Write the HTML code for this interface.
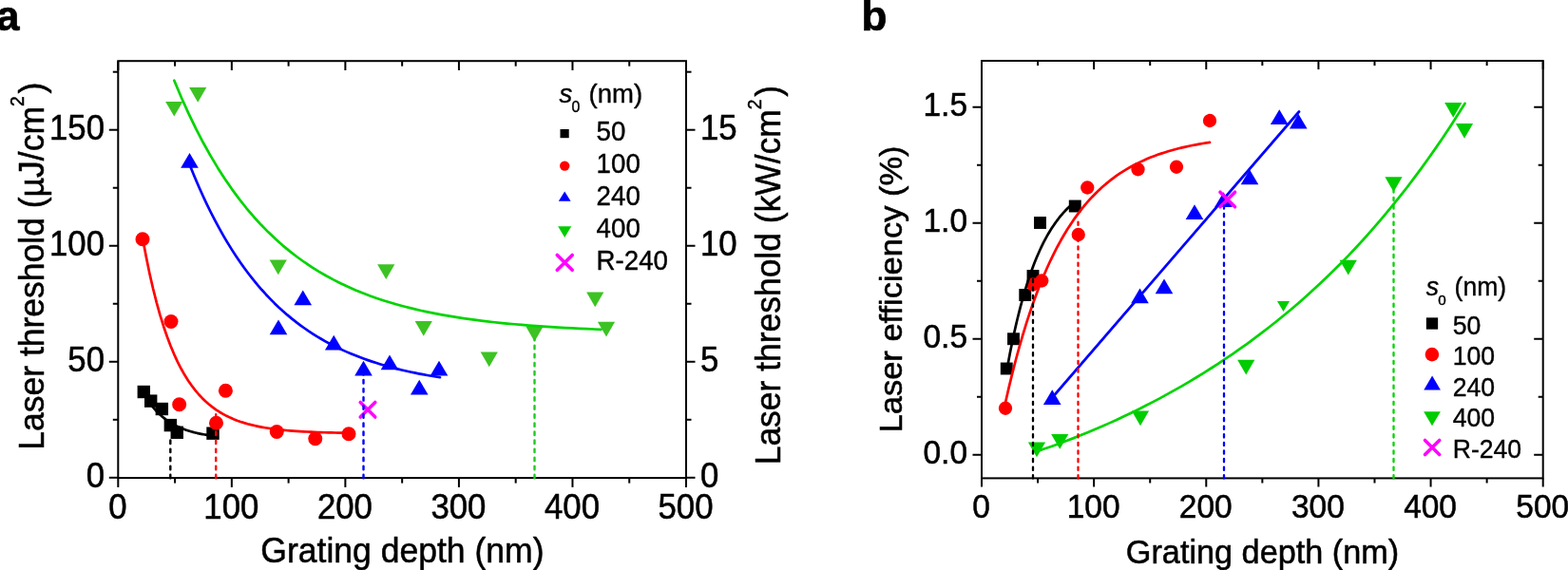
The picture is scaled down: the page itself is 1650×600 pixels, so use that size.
<!DOCTYPE html>
<html lang="en">
<head>
<meta charset="utf-8">
<title>Laser threshold and efficiency vs grating depth</title>
<style>
html,body{margin:0;padding:0;background:#fff;}
body{width:1650px;height:600px;overflow:hidden;}
svg{display:block;}
svg text{font-family:"Liberation Sans",Arial,Helvetica,sans-serif;fill:#000;stroke:#000;stroke-width:0.55px;stroke-linejoin:round;}
svg text.b{font-weight:bold;stroke-width:0.7px;}
svg text.l{stroke-width:0.4px;}
</style>
</head>
<body>
<svg width="1650" height="600" viewBox="0 0 1650 600">
<rect width="1650" height="600" fill="#fff"/>
<g id="panel-a">
<g id="a-markers">
<rect x="144.60" y="405.80" width="13.4" height="13.4" fill="#000"/>
<rect x="152.00" y="415.40" width="13.4" height="13.4" fill="#000"/>
<rect x="163.65" y="423.80" width="13.4" height="13.4" fill="#000"/>
<rect x="172.65" y="440.90" width="13.4" height="13.4" fill="#000"/>
<rect x="179.55" y="448.55" width="13.4" height="13.4" fill="#000"/>
<rect x="217.30" y="449.45" width="13.4" height="13.4" fill="#000"/>
<circle cx="150.00" cy="251.75" r="7.5" fill="#f00"/>
<circle cx="180.00" cy="338.50" r="7.5" fill="#f00"/>
<circle cx="188.65" cy="425.70" r="7.5" fill="#f00"/>
<circle cx="237.40" cy="411.30" r="7.5" fill="#f00"/>
<circle cx="227.50" cy="445.20" r="7.5" fill="#f00"/>
<circle cx="291.25" cy="454.50" r="7.5" fill="#f00"/>
<circle cx="331.75" cy="461.75" r="7.5" fill="#f00"/>
<circle cx="367.00" cy="456.75" r="7.5" fill="#f00"/>
<polygon points="199.50,160.95 208.80,176.65 190.20,176.65" fill="#00f"/>
<polygon points="293.00,336.45 302.30,352.15 283.70,352.15" fill="#00f"/>
<polygon points="318.75,305.45 328.05,321.15 309.45,321.15" fill="#00f"/>
<polygon points="351.25,352.70 360.55,368.40 341.95,368.40" fill="#00f"/>
<polygon points="382.50,379.70 391.80,395.40 373.20,395.40" fill="#00f"/>
<polygon points="410.00,373.45 419.30,389.15 400.70,389.15" fill="#00f"/>
<polygon points="462.00,379.70 471.30,395.40 452.70,395.40" fill="#00f"/>
<polygon points="441.25,399.70 450.55,415.40 431.95,415.40" fill="#00f"/>
<polygon points="174.15,106.90 192.35,106.90 183.25,122.60" fill="#3cc323"/>
<polygon points="199.10,92.00 217.30,92.00 208.20,107.70" fill="#3cc323"/>
<polygon points="283.65,273.50 301.85,273.50 292.75,289.20" fill="#3cc323"/>
<polygon points="397.15,278.25 415.35,278.25 406.25,293.95" fill="#3cc323"/>
<polygon points="436.65,338.00 454.85,338.00 445.75,353.70" fill="#3cc323"/>
<polygon points="617.15,307.50 635.35,307.50 626.25,323.20" fill="#3cc323"/>
<polygon points="628.90,338.75 647.10,338.75 638.00,354.45" fill="#3cc323"/>
<polygon points="553.40,343.75 571.60,343.75 562.50,359.45" fill="#3cc323"/>
<polygon points="505.65,370.50 523.85,370.50 514.75,386.20" fill="#3cc323"/>
<path d="M379.20,423.45L394.80,439.05M379.20,439.05L394.80,423.45" stroke="#f0f" stroke-width="3.5" fill="none" stroke-linecap="round"/>
</g>
<g id="a-curves">
<path d="M183.30,84.65L190.91,102.75L198.53,119.63L206.14,135.36L213.75,150.02L221.37,163.68L228.98,176.41L236.59,188.28L244.21,199.34L251.82,209.65L259.44,219.26L267.05,228.22L274.66,236.56L282.28,244.34L289.89,251.59L297.50,258.35L305.12,264.65L312.73,270.52L320.34,275.99L327.96,281.09L335.57,285.84L343.18,290.27L350.80,294.40L358.41,298.25L366.03,301.84L373.64,305.18L381.25,308.29L388.87,311.20L396.48,313.90L404.09,316.43L411.71,318.78L419.32,320.97L426.93,323.01L434.55,324.91L442.16,326.69L449.77,328.34L457.39,329.88L465.00,331.32L472.62,332.66L480.23,333.90L487.84,335.07L495.46,336.15L503.07,337.16L510.68,338.10L518.30,338.98L525.91,339.80L533.52,340.56L541.14,341.27L548.75,341.93L556.36,342.55L563.98,343.12L571.59,343.66L579.21,344.16L586.82,344.63L594.43,345.06L602.05,345.46L609.66,345.84L617.27,346.19L624.89,346.52L632.50,346.82" stroke="#00d400" stroke-width="2.7" fill="none" stroke-linecap="round" stroke-linejoin="round"/>
<path d="M199.50,173.25L203.97,184.26L208.43,194.77L212.90,204.79L217.36,214.35L221.83,223.47L226.30,232.17L230.76,240.46L235.23,248.37L239.69,255.92L244.16,263.12L248.63,269.99L253.09,276.54L257.56,282.78L262.03,288.74L266.49,294.43L270.96,299.85L275.42,305.02L279.89,309.96L284.36,314.66L288.82,319.15L293.29,323.43L297.75,327.51L302.22,331.41L306.69,335.12L311.15,338.67L315.62,342.05L320.08,345.27L324.55,348.35L329.02,351.28L333.48,354.08L337.95,356.75L342.42,359.30L346.88,361.72L351.35,364.04L355.81,366.25L360.28,368.36L364.75,370.37L369.21,372.28L373.68,374.11L378.14,375.86L382.61,377.52L387.08,379.11L391.54,380.62L396.01,382.07L400.47,383.45L404.94,384.76L409.41,386.01L413.87,387.21L418.34,388.35L422.81,389.44L427.27,390.47L431.74,391.46L436.20,392.41L440.67,393.31L445.14,394.17L449.60,394.98L454.07,395.77L458.53,396.51L463.00,397.22" stroke="#00f" stroke-width="2.7" fill="none" stroke-linecap="round" stroke-linejoin="round"/>
<path d="M150.00,250.14L153.69,269.84L157.37,287.66L161.06,303.78L164.75,318.36L168.43,331.55L172.12,343.47L175.81,354.26L179.49,364.01L183.18,372.83L186.86,380.81L190.55,388.03L194.24,394.56L197.92,400.46L201.61,405.80L205.30,410.63L208.98,415.00L212.67,418.95L216.36,422.52L220.04,425.75L223.73,428.68L227.42,431.32L231.10,433.71L234.79,435.87L238.47,437.83L242.16,439.60L245.85,441.20L249.53,442.65L253.22,443.95L256.91,445.14L260.59,446.21L264.28,447.18L267.97,448.05L271.65,448.84L275.34,449.56L279.03,450.21L282.71,450.79L286.40,451.32L290.08,451.80L293.77,452.24L297.46,452.63L301.14,452.98L304.83,453.30L308.52,453.59L312.20,453.86L315.89,454.09L319.58,454.31L323.26,454.50L326.95,454.68L330.64,454.84L334.32,454.98L338.01,455.11L341.69,455.23L345.38,455.33L349.07,455.43L352.75,455.52L356.44,455.60L360.13,455.67L363.81,455.73L367.50,455.79" stroke="#f00" stroke-width="2.7" fill="none" stroke-linecap="round" stroke-linejoin="round"/>
<path d="M152.00,415.78L153.22,417.77L154.44,419.67L155.66,421.50L156.88,423.24L158.10,424.91L159.32,426.51L160.54,428.04L161.76,429.51L162.98,430.91L164.20,432.25L165.42,433.54L166.64,434.77L167.86,435.95L169.08,437.07L170.31,438.15L171.53,439.18L172.75,440.17L173.97,441.12L175.19,442.02L176.41,442.89L177.63,443.72L178.85,444.52L180.07,445.28L181.29,446.00L182.51,446.70L183.73,447.37L184.95,448.00L186.17,448.61L187.39,449.20L188.61,449.76L189.83,450.29L191.05,450.81L192.27,451.30L193.49,451.77L194.71,452.22L195.93,452.65L197.15,453.06L198.37,453.45L199.59,453.83L200.81,454.19L202.03,454.54L203.25,454.87L204.47,455.19L205.69,455.49L206.92,455.78L208.14,456.06L209.36,456.32L210.58,456.58L211.80,456.82L213.02,457.06L214.24,457.28L215.46,457.49L216.68,457.70L217.90,457.89L219.12,458.08L220.34,458.26L221.56,458.43L222.78,458.60L224.00,458.75" stroke="#000" stroke-width="2.7" fill="none" stroke-linecap="round" stroke-linejoin="round"/>
</g>
<g id="a-axes">
<rect x="124.3" y="64.2" width="597.70" height="438.90" fill="none" stroke="#000" stroke-width="2.0"/>
<line x1="124.30" y1="503.10" x2="124.30" y2="512.90" stroke="#000" stroke-width="2.0" stroke-linecap="butt"/>
<line x1="124.30" y1="64.20" x2="124.30" y2="74.00" stroke="#000" stroke-width="2.0" stroke-linecap="butt"/>
<line x1="184.07" y1="503.10" x2="184.07" y2="508.60" stroke="#000" stroke-width="2.0" stroke-linecap="butt"/>
<line x1="184.07" y1="64.20" x2="184.07" y2="69.70" stroke="#000" stroke-width="2.0" stroke-linecap="butt"/>
<line x1="243.84" y1="503.10" x2="243.84" y2="512.90" stroke="#000" stroke-width="2.0" stroke-linecap="butt"/>
<line x1="243.84" y1="64.20" x2="243.84" y2="74.00" stroke="#000" stroke-width="2.0" stroke-linecap="butt"/>
<line x1="303.61" y1="503.10" x2="303.61" y2="508.60" stroke="#000" stroke-width="2.0" stroke-linecap="butt"/>
<line x1="303.61" y1="64.20" x2="303.61" y2="69.70" stroke="#000" stroke-width="2.0" stroke-linecap="butt"/>
<line x1="363.38" y1="503.10" x2="363.38" y2="512.90" stroke="#000" stroke-width="2.0" stroke-linecap="butt"/>
<line x1="363.38" y1="64.20" x2="363.38" y2="74.00" stroke="#000" stroke-width="2.0" stroke-linecap="butt"/>
<line x1="423.15" y1="503.10" x2="423.15" y2="508.60" stroke="#000" stroke-width="2.0" stroke-linecap="butt"/>
<line x1="423.15" y1="64.20" x2="423.15" y2="69.70" stroke="#000" stroke-width="2.0" stroke-linecap="butt"/>
<line x1="482.92" y1="503.10" x2="482.92" y2="512.90" stroke="#000" stroke-width="2.0" stroke-linecap="butt"/>
<line x1="482.92" y1="64.20" x2="482.92" y2="74.00" stroke="#000" stroke-width="2.0" stroke-linecap="butt"/>
<line x1="542.69" y1="503.10" x2="542.69" y2="508.60" stroke="#000" stroke-width="2.0" stroke-linecap="butt"/>
<line x1="542.69" y1="64.20" x2="542.69" y2="69.70" stroke="#000" stroke-width="2.0" stroke-linecap="butt"/>
<line x1="602.46" y1="503.10" x2="602.46" y2="512.90" stroke="#000" stroke-width="2.0" stroke-linecap="butt"/>
<line x1="602.46" y1="64.20" x2="602.46" y2="74.00" stroke="#000" stroke-width="2.0" stroke-linecap="butt"/>
<line x1="662.23" y1="503.10" x2="662.23" y2="508.60" stroke="#000" stroke-width="2.0" stroke-linecap="butt"/>
<line x1="662.23" y1="64.20" x2="662.23" y2="69.70" stroke="#000" stroke-width="2.0" stroke-linecap="butt"/>
<line x1="722.00" y1="503.10" x2="722.00" y2="512.90" stroke="#000" stroke-width="2.0" stroke-linecap="butt"/>
<line x1="722.00" y1="64.20" x2="722.00" y2="74.00" stroke="#000" stroke-width="2.0" stroke-linecap="butt"/>
<line x1="124.30" y1="502.80" x2="114.80" y2="502.80" stroke="#000" stroke-width="2.0" stroke-linecap="butt"/>
<line x1="722.00" y1="502.80" x2="731.50" y2="502.80" stroke="#000" stroke-width="2.0" stroke-linecap="butt"/>
<line x1="124.30" y1="441.79" x2="118.80" y2="441.79" stroke="#000" stroke-width="2.0" stroke-linecap="butt"/>
<line x1="722.00" y1="441.79" x2="727.50" y2="441.79" stroke="#000" stroke-width="2.0" stroke-linecap="butt"/>
<line x1="124.30" y1="380.77" x2="114.80" y2="380.77" stroke="#000" stroke-width="2.0" stroke-linecap="butt"/>
<line x1="722.00" y1="380.77" x2="731.50" y2="380.77" stroke="#000" stroke-width="2.0" stroke-linecap="butt"/>
<line x1="124.30" y1="319.75" x2="118.80" y2="319.75" stroke="#000" stroke-width="2.0" stroke-linecap="butt"/>
<line x1="722.00" y1="319.75" x2="727.50" y2="319.75" stroke="#000" stroke-width="2.0" stroke-linecap="butt"/>
<line x1="124.30" y1="258.74" x2="114.80" y2="258.74" stroke="#000" stroke-width="2.0" stroke-linecap="butt"/>
<line x1="722.00" y1="258.74" x2="731.50" y2="258.74" stroke="#000" stroke-width="2.0" stroke-linecap="butt"/>
<line x1="124.30" y1="197.73" x2="118.80" y2="197.73" stroke="#000" stroke-width="2.0" stroke-linecap="butt"/>
<line x1="722.00" y1="197.73" x2="727.50" y2="197.73" stroke="#000" stroke-width="2.0" stroke-linecap="butt"/>
<line x1="124.30" y1="136.71" x2="114.80" y2="136.71" stroke="#000" stroke-width="2.0" stroke-linecap="butt"/>
<line x1="722.00" y1="136.71" x2="731.50" y2="136.71" stroke="#000" stroke-width="2.0" stroke-linecap="butt"/>
<line x1="124.30" y1="75.70" x2="118.80" y2="75.70" stroke="#000" stroke-width="2.0" stroke-linecap="butt"/>
<line x1="722.00" y1="75.70" x2="727.50" y2="75.70" stroke="#000" stroke-width="2.0" stroke-linecap="butt"/>
</g>
<g id="a-dashed">
<line x1="179.30" y1="503.30" x2="179.30" y2="460.00" stroke="#000" stroke-width="2.4" stroke-dasharray="3.5,5.57" stroke-linecap="round"/>
<line x1="227.20" y1="503.30" x2="227.20" y2="433.50" stroke="#f00" stroke-width="2.4" stroke-dasharray="3.5,5.57" stroke-linecap="round"/>
<line x1="382.50" y1="503.30" x2="382.50" y2="394.00" stroke="#00f" stroke-width="2.4" stroke-dasharray="3.5,5.57" stroke-linecap="round"/>
<line x1="562.50" y1="503.30" x2="562.50" y2="357.00" stroke="#22c822" stroke-width="2.4" stroke-dasharray="3.5,5.57" stroke-linecap="round"/>
</g>
<g id="a-labels">
<text transform="translate(123.80,545.50) scale(0.94,1)" font-size="37.0" text-anchor="middle">0</text>
<text transform="translate(243.34,545.50) scale(0.94,1)" font-size="37.0" text-anchor="middle">100</text>
<text transform="translate(362.88,545.50) scale(0.94,1)" font-size="37.0" text-anchor="middle">200</text>
<text transform="translate(482.42,545.50) scale(0.94,1)" font-size="37.0" text-anchor="middle">300</text>
<text transform="translate(601.96,545.50) scale(0.94,1)" font-size="37.0" text-anchor="middle">400</text>
<text transform="translate(721.50,545.50) scale(0.94,1)" font-size="37.0" text-anchor="middle">500</text>
<text transform="translate(110.00,512.90) scale(0.94,1)" font-size="37.0" text-anchor="end">0</text>
<text transform="translate(110.00,390.87) scale(0.94,1)" font-size="37.0" text-anchor="end">50</text>
<text transform="translate(110.00,268.84) scale(0.94,1)" font-size="37.0" text-anchor="end">100</text>
<text transform="translate(110.00,146.81) scale(0.94,1)" font-size="37.0" text-anchor="end">150</text>
<text transform="translate(737.00,512.90) scale(0.94,1)" font-size="37.0" text-anchor="start">0</text>
<text transform="translate(737.00,390.87) scale(0.94,1)" font-size="37.0" text-anchor="start">5</text>
<text transform="translate(737.00,268.84) scale(0.94,1)" font-size="37.0" text-anchor="start">10</text>
<text transform="translate(737.00,146.81) scale(0.94,1)" font-size="37.0" text-anchor="start">15</text>
<text transform="translate(423.40,592.30) scale(0.961,1)" font-size="37.0" text-anchor="middle">Grating depth (nm)</text>
<text transform="translate(45.50,280.20) rotate(-90) scale(0.96,1)" font-size="37.0" text-anchor="middle">Laser threshold (µJ/cm<tspan dy="-20.5" font-size="20">2</tspan><tspan dy="20.5" dx="3">)</tspan></text>
<text transform="translate(821.30,289.60) rotate(-90) scale(0.958,1)" font-size="37.0" text-anchor="middle">Laser threshold (kW/cm<tspan dy="-20.5" font-size="20">2</tspan><tspan dy="20.5" dx="3">)</tspan></text>
<text class="b" transform="translate(-3.90,31.70)" font-size="44" text-anchor="start">a</text>
</g>
<g id="a-legend">
<text class="l" transform="translate(588.60,107.50) scale(0.99,1)" font-size="27.8" text-anchor="start"><tspan font-style="italic">s</tspan><tspan dy="10.9" dx="-0.8" font-size="16">0</tspan><tspan dy="-10.9" dx="1.5"> (nm)</tspan></text>
<text class="l" transform="translate(627.60,148.40) scale(0.955,1)" font-size="29.0" text-anchor="start">50</text>
<text class="l" transform="translate(627.60,182.40) scale(0.955,1)" font-size="29.0" text-anchor="start">100</text>
<text class="l" transform="translate(627.60,216.40) scale(0.955,1)" font-size="29.0" text-anchor="start">240</text>
<text class="l" transform="translate(627.60,250.40) scale(0.955,1)" font-size="29.0" text-anchor="start">400</text>
<text class="l" transform="translate(627.60,284.40) scale(0.955,1)" font-size="29.0" text-anchor="start">R-240</text>
<rect x="589.50" y="136.00" width="9.2" height="9.2" fill="#000"/>
<circle cx="594.20" cy="174.60" r="5.2" fill="#f00"/>
<polygon points="594.20,201.60 600.60,211.80 587.80,211.80" fill="#00f"/>
<polygon points="587.20,238.20 601.20,238.20 594.20,250.10" fill="#00cc00"/>
<path d="M586.30,268.40L602.20,284.30M586.30,284.30L602.20,268.40" stroke="#f0f" stroke-width="3.6" fill="none" stroke-linecap="round"/>
</g>
</g>
<g id="panel-b">
<g id="b-markers">
<rect x="1088.05" y="228.05" width="12.9" height="12.9" fill="#000"/>
<rect x="1124.80" y="210.55" width="12.9" height="12.9" fill="#000"/>
<rect x="1080.55" y="284.05" width="12.9" height="12.9" fill="#000"/>
<rect x="1072.30" y="304.05" width="12.9" height="12.9" fill="#000"/>
<rect x="1060.05" y="350.30" width="12.9" height="12.9" fill="#000"/>
<rect x="1052.80" y="381.55" width="12.9" height="12.9" fill="#000"/>
<circle cx="1144.25" cy="197.50" r="7.15" fill="#f00"/>
<circle cx="1197.50" cy="178.25" r="7.15" fill="#f00"/>
<circle cx="1134.75" cy="247.00" r="7.15" fill="#f00"/>
<circle cx="1096.25" cy="295.50" r="7.15" fill="#f00"/>
<circle cx="1087.00" cy="299.50" r="7.15" fill="#f00"/>
<circle cx="1058.00" cy="429.75" r="7.15" fill="#f00"/>
<circle cx="1273.00" cy="127.00" r="7.15" fill="#f00"/>
<circle cx="1238.00" cy="175.75" r="7.15" fill="#f00"/>
<polygon points="1107.25,410.20 1116.55,425.90 1097.95,425.90" fill="#00f"/>
<polygon points="1199.50,303.45 1208.80,319.15 1190.20,319.15" fill="#00f"/>
<polygon points="1346.25,115.20 1355.55,130.90 1336.95,130.90" fill="#00f"/>
<polygon points="1366.25,119.70 1375.55,135.40 1356.95,135.40" fill="#00f"/>
<polygon points="1315.00,178.45 1324.30,194.15 1305.70,194.15" fill="#00f"/>
<polygon points="1257.00,215.20 1266.30,230.90 1247.70,230.90" fill="#00f"/>
<polygon points="1287.50,202.20 1296.80,217.90 1278.20,217.90" fill="#00f"/>
<polygon points="1225.00,293.45 1234.30,309.15 1215.70,309.15" fill="#00f"/>
<polygon points="1081.90,465.50 1100.10,465.50 1091.00,481.20" fill="#00cc00"/>
<polygon points="1106.15,457.00 1124.35,457.00 1115.25,472.70" fill="#00cc00"/>
<polygon points="1190.90,432.50 1209.10,432.50 1200.00,448.20" fill="#00cc00"/>
<polygon points="1302.15,378.75 1320.35,378.75 1311.25,394.45" fill="#00cc00"/>
<polygon points="1409.65,273.75 1427.85,273.75 1418.75,289.45" fill="#00cc00"/>
<polygon points="1520.15,108.00 1538.35,108.00 1529.25,123.70" fill="#00cc00"/>
<polygon points="1531.90,130.00 1550.10,130.00 1541.00,145.70" fill="#00cc00"/>
<polygon points="1457.40,186.25 1475.60,186.25 1466.50,201.95" fill="#00cc00"/>
<polygon points="1344.00,317.00 1357.00,317.00 1350.50,328.00" fill="#00cc00"/>
</g>
<g id="b-curves">
<path d="M1091.00,475.15L1098.64,472.57L1106.27,469.91L1113.91,467.15L1121.54,464.31L1129.18,461.38L1136.81,458.35L1144.45,455.24L1152.08,452.04L1159.72,448.75L1167.36,445.37L1174.99,441.90L1182.63,438.34L1190.26,434.68L1197.90,430.93L1205.53,427.08L1213.17,423.13L1220.81,419.08L1228.44,414.93L1236.08,410.67L1243.71,406.31L1251.35,401.84L1258.98,397.26L1266.62,392.56L1274.25,387.74L1281.89,382.81L1289.53,377.74L1297.16,372.55L1304.80,367.23L1312.43,361.78L1320.07,356.18L1327.70,350.44L1335.34,344.55L1342.97,338.51L1350.61,332.31L1358.25,325.95L1365.88,319.42L1373.52,312.72L1381.15,305.84L1388.79,298.78L1396.42,291.53L1404.06,284.08L1411.69,276.43L1419.33,268.58L1426.97,260.51L1434.60,252.22L1442.24,243.70L1449.87,234.95L1457.51,225.95L1465.14,216.71L1472.78,207.22L1480.42,197.46L1488.05,187.43L1495.69,177.12L1503.32,166.52L1510.96,155.63L1518.59,144.43L1526.23,132.92L1533.86,121.09L1541.50,108.93" stroke="#00d400" stroke-width="2.7" fill="none" stroke-linecap="round" stroke-linejoin="round"/>
<path d="M1106.00,420.00L1367.00,117.50" stroke="#00f" stroke-width="2.7" fill="none" stroke-linecap="round" stroke-linejoin="round"/>
<path d="M1058.00,423.78L1061.64,407.90L1065.29,392.91L1068.93,378.76L1072.58,365.40L1076.22,352.80L1079.86,340.89L1083.51,329.66L1087.15,319.06L1090.80,309.05L1094.44,299.60L1098.08,290.68L1101.73,282.26L1105.37,274.31L1109.02,266.81L1112.66,259.73L1116.31,253.04L1119.95,246.73L1123.59,240.78L1127.24,235.15L1130.88,229.85L1134.53,224.84L1138.17,220.11L1141.81,215.64L1145.46,211.43L1149.10,207.45L1152.75,203.70L1156.39,200.15L1160.03,196.81L1163.68,193.65L1167.32,190.67L1170.97,187.85L1174.61,185.20L1178.25,182.69L1181.90,180.32L1185.54,178.09L1189.19,175.98L1192.83,173.99L1196.47,172.11L1200.12,170.34L1203.76,168.66L1207.41,167.08L1211.05,165.59L1214.69,164.18L1218.34,162.85L1221.98,161.60L1225.63,160.41L1229.27,159.29L1232.92,158.24L1236.56,157.24L1240.20,156.30L1243.85,155.41L1247.49,154.58L1251.14,153.79L1254.78,153.04L1258.42,152.33L1262.07,151.67L1265.71,151.04L1269.36,150.45L1273.00,149.89" stroke="#f00" stroke-width="2.7" fill="none" stroke-linecap="round" stroke-linejoin="round"/>
<path d="M1059.25,390.99L1060.47,384.23L1061.68,377.69L1062.90,371.36L1064.11,365.23L1065.33,359.31L1066.55,353.58L1067.76,348.03L1068.98,342.67L1070.19,337.48L1071.41,332.46L1072.63,327.60L1073.84,322.90L1075.06,318.35L1076.28,313.95L1077.49,309.69L1078.71,305.57L1079.92,301.59L1081.14,297.73L1082.36,294.00L1083.57,290.39L1084.79,286.90L1086.00,283.52L1087.22,280.25L1088.44,277.09L1089.65,274.03L1090.87,271.07L1092.08,268.21L1093.30,265.44L1094.52,262.75L1095.73,260.16L1096.95,257.65L1098.17,255.22L1099.38,252.87L1100.60,250.60L1101.81,248.40L1103.03,246.28L1104.25,244.22L1105.46,242.23L1106.68,240.30L1107.89,238.44L1109.11,236.63L1110.33,234.89L1111.54,233.20L1112.76,231.57L1113.97,229.99L1115.19,228.46L1116.41,226.98L1117.62,225.55L1118.84,224.16L1120.06,222.82L1121.27,221.53L1122.49,220.28L1123.70,219.06L1124.92,217.89L1126.14,216.75L1127.35,215.65L1128.57,214.59L1129.78,213.56L1131.00,212.57" stroke="#000" stroke-width="2.7" fill="none" stroke-linecap="round" stroke-linejoin="round"/>
<path d="M1283.95,202.20L1299.55,217.80M1283.95,217.80L1299.55,202.20" stroke="#f0f" stroke-width="3.5" fill="none" stroke-linecap="round"/>
</g>
<g id="b-axes">
<rect x="1033.0" y="64.0" width="590.70" height="439.40" fill="none" stroke="#000" stroke-width="2.0"/>
<line x1="1033.00" y1="503.40" x2="1033.00" y2="512.50" stroke="#000" stroke-width="2.0" stroke-linecap="butt"/>
<line x1="1033.00" y1="64.00" x2="1033.00" y2="73.10" stroke="#000" stroke-width="2.0" stroke-linecap="butt"/>
<line x1="1092.07" y1="503.40" x2="1092.07" y2="508.50" stroke="#000" stroke-width="2.0" stroke-linecap="butt"/>
<line x1="1092.07" y1="64.00" x2="1092.07" y2="69.10" stroke="#000" stroke-width="2.0" stroke-linecap="butt"/>
<line x1="1151.14" y1="503.40" x2="1151.14" y2="512.50" stroke="#000" stroke-width="2.0" stroke-linecap="butt"/>
<line x1="1151.14" y1="64.00" x2="1151.14" y2="73.10" stroke="#000" stroke-width="2.0" stroke-linecap="butt"/>
<line x1="1210.21" y1="503.40" x2="1210.21" y2="508.50" stroke="#000" stroke-width="2.0" stroke-linecap="butt"/>
<line x1="1210.21" y1="64.00" x2="1210.21" y2="69.10" stroke="#000" stroke-width="2.0" stroke-linecap="butt"/>
<line x1="1269.28" y1="503.40" x2="1269.28" y2="512.50" stroke="#000" stroke-width="2.0" stroke-linecap="butt"/>
<line x1="1269.28" y1="64.00" x2="1269.28" y2="73.10" stroke="#000" stroke-width="2.0" stroke-linecap="butt"/>
<line x1="1328.35" y1="503.40" x2="1328.35" y2="508.50" stroke="#000" stroke-width="2.0" stroke-linecap="butt"/>
<line x1="1328.35" y1="64.00" x2="1328.35" y2="69.10" stroke="#000" stroke-width="2.0" stroke-linecap="butt"/>
<line x1="1387.42" y1="503.40" x2="1387.42" y2="512.50" stroke="#000" stroke-width="2.0" stroke-linecap="butt"/>
<line x1="1387.42" y1="64.00" x2="1387.42" y2="73.10" stroke="#000" stroke-width="2.0" stroke-linecap="butt"/>
<line x1="1446.49" y1="503.40" x2="1446.49" y2="508.50" stroke="#000" stroke-width="2.0" stroke-linecap="butt"/>
<line x1="1446.49" y1="64.00" x2="1446.49" y2="69.10" stroke="#000" stroke-width="2.0" stroke-linecap="butt"/>
<line x1="1505.56" y1="503.40" x2="1505.56" y2="512.50" stroke="#000" stroke-width="2.0" stroke-linecap="butt"/>
<line x1="1505.56" y1="64.00" x2="1505.56" y2="73.10" stroke="#000" stroke-width="2.0" stroke-linecap="butt"/>
<line x1="1564.63" y1="503.40" x2="1564.63" y2="508.50" stroke="#000" stroke-width="2.0" stroke-linecap="butt"/>
<line x1="1564.63" y1="64.00" x2="1564.63" y2="69.10" stroke="#000" stroke-width="2.0" stroke-linecap="butt"/>
<line x1="1623.70" y1="503.40" x2="1623.70" y2="512.50" stroke="#000" stroke-width="2.0" stroke-linecap="butt"/>
<line x1="1623.70" y1="64.00" x2="1623.70" y2="73.10" stroke="#000" stroke-width="2.0" stroke-linecap="butt"/>
<line x1="1033.00" y1="478.75" x2="1023.50" y2="478.75" stroke="#000" stroke-width="2.0" stroke-linecap="butt"/>
<line x1="1623.70" y1="478.75" x2="1614.20" y2="478.75" stroke="#000" stroke-width="2.0" stroke-linecap="butt"/>
<line x1="1033.00" y1="417.75" x2="1028.00" y2="417.75" stroke="#000" stroke-width="2.0" stroke-linecap="butt"/>
<line x1="1623.70" y1="417.75" x2="1618.70" y2="417.75" stroke="#000" stroke-width="2.0" stroke-linecap="butt"/>
<line x1="1033.00" y1="356.75" x2="1023.50" y2="356.75" stroke="#000" stroke-width="2.0" stroke-linecap="butt"/>
<line x1="1623.70" y1="356.75" x2="1614.20" y2="356.75" stroke="#000" stroke-width="2.0" stroke-linecap="butt"/>
<line x1="1033.00" y1="295.75" x2="1028.00" y2="295.75" stroke="#000" stroke-width="2.0" stroke-linecap="butt"/>
<line x1="1623.70" y1="295.75" x2="1618.70" y2="295.75" stroke="#000" stroke-width="2.0" stroke-linecap="butt"/>
<line x1="1033.00" y1="234.75" x2="1023.50" y2="234.75" stroke="#000" stroke-width="2.0" stroke-linecap="butt"/>
<line x1="1623.70" y1="234.75" x2="1614.20" y2="234.75" stroke="#000" stroke-width="2.0" stroke-linecap="butt"/>
<line x1="1033.00" y1="173.75" x2="1028.00" y2="173.75" stroke="#000" stroke-width="2.0" stroke-linecap="butt"/>
<line x1="1623.70" y1="173.75" x2="1618.70" y2="173.75" stroke="#000" stroke-width="2.0" stroke-linecap="butt"/>
<line x1="1033.00" y1="112.75" x2="1023.50" y2="112.75" stroke="#000" stroke-width="2.0" stroke-linecap="butt"/>
<line x1="1623.70" y1="112.75" x2="1614.20" y2="112.75" stroke="#000" stroke-width="2.0" stroke-linecap="butt"/>
</g>
<g id="b-dashed">
<line x1="1087.00" y1="503.50" x2="1087.00" y2="292.00" stroke="#000" stroke-width="2.3" stroke-dasharray="3.3,5.3" stroke-linecap="round"/>
<line x1="1134.50" y1="503.50" x2="1134.50" y2="230.00" stroke="#f00" stroke-width="2.3" stroke-dasharray="3.3,5.3" stroke-linecap="round"/>
<line x1="1288.00" y1="503.50" x2="1288.00" y2="215.00" stroke="#00f" stroke-width="2.3" stroke-dasharray="3.3,5.3" stroke-linecap="round"/>
<line x1="1466.50" y1="503.50" x2="1466.50" y2="198.00" stroke="#00d400" stroke-width="2.3" stroke-dasharray="3.3,5.3" stroke-linecap="round"/>
</g>
<g id="b-labels">
<text transform="translate(1032.50,544.50) scale(0.94,1)" font-size="35.6" text-anchor="middle">0</text>
<text transform="translate(1150.64,544.50) scale(0.94,1)" font-size="35.6" text-anchor="middle">100</text>
<text transform="translate(1268.78,544.50) scale(0.94,1)" font-size="35.6" text-anchor="middle">200</text>
<text transform="translate(1386.92,544.50) scale(0.94,1)" font-size="35.6" text-anchor="middle">300</text>
<text transform="translate(1505.06,544.50) scale(0.94,1)" font-size="35.6" text-anchor="middle">400</text>
<text transform="translate(1623.20,544.50) scale(0.94,1)" font-size="35.6" text-anchor="middle">500</text>
<text transform="translate(1018.00,488.15) scale(0.94,1)" font-size="35.6" text-anchor="end">0.0</text>
<text transform="translate(1018.00,366.15) scale(0.94,1)" font-size="35.6" text-anchor="end">0.5</text>
<text transform="translate(1018.00,244.15) scale(0.94,1)" font-size="35.6" text-anchor="end">1.0</text>
<text transform="translate(1018.00,122.15) scale(0.94,1)" font-size="35.6" text-anchor="end">1.5</text>
<text transform="translate(1328.50,592.70) scale(0.962,1)" font-size="35.6" text-anchor="middle">Grating depth (nm)</text>
<text transform="translate(949.00,304.40) rotate(-90) scale(1.029,1)" font-size="33.5" text-anchor="middle">Laser efficiency (%)</text>
<text class="b" transform="translate(906.50,31.60)" font-size="44" text-anchor="start">b</text>
</g>
<g id="b-legend">
<text class="l" transform="translate(1500.80,310.70) scale(0.99,1)" font-size="26.8" text-anchor="start"><tspan font-style="italic">s</tspan><tspan dy="10.6" dx="-0.8" font-size="15.4">0</tspan><tspan dy="-10.6" dx="1.5"> (nm)</tspan></text>
<text class="l" transform="translate(1528.70,351.50) scale(0.95,1)" font-size="28.0" text-anchor="start">50</text>
<text class="l" transform="translate(1528.70,384.10) scale(0.95,1)" font-size="28.0" text-anchor="start">100</text>
<text class="l" transform="translate(1528.70,416.70) scale(0.95,1)" font-size="28.0" text-anchor="start">240</text>
<text class="l" transform="translate(1528.70,449.30) scale(0.95,1)" font-size="28.0" text-anchor="start">400</text>
<text class="l" transform="translate(1528.70,481.90) scale(0.95,1)" font-size="28.0" text-anchor="start">R-240</text>
<rect x="1500.85" y="334.35" width="12.3" height="12.3" fill="#000"/>
<circle cx="1506.90" cy="373.10" r="7.3" fill="#f00"/>
<polygon points="1507.10,395.60 1515.90,410.60 1498.30,410.60" fill="#00f"/>
<polygon points="1498.10,433.30 1515.90,433.30 1507.00,448.30" fill="#00cc00"/>
<path d="M1499.50,463.40L1514.70,478.60M1499.50,478.60L1514.70,463.40" stroke="#f0f" stroke-width="3.5" fill="none" stroke-linecap="round"/>
</g>
</g>
</svg>
</body>
</html>
